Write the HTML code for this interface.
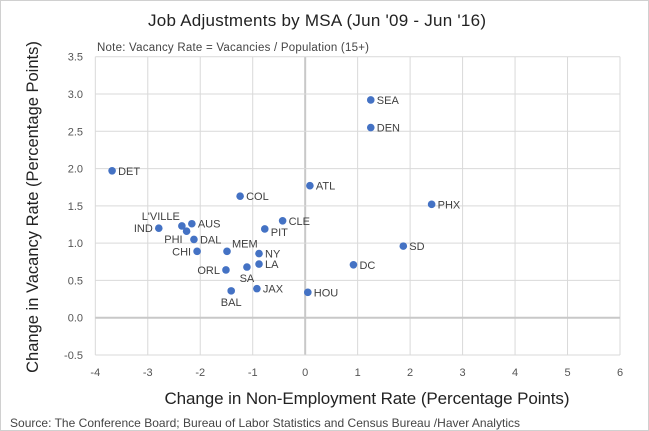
<!DOCTYPE html>
<html><head><meta charset="utf-8"><style>
body{margin:0;background:#fff}
svg{display:block;font-family:"Liberation Sans",sans-serif}
</style></head><body>
<svg id="c" width="649" height="431" viewBox="0 0 649 431">
<rect x="0.5" y="0.5" width="648" height="430" fill="#fff" stroke="#d0d0d0"/>
<text x="317" y="26" font-size="17" text-anchor="middle" fill="#222" textLength="338">Job Adjustments by MSA (Jun '09 - Jun '16)</text>
<text x="97" y="51" font-size="11.5" fill="#444" textLength="272">Note:  Vacancy Rate = Vacancies / Population (15+)</text>
<g id="grid"></g><g id="pts"></g>
<text x="367" y="404" font-size="17" text-anchor="middle" fill="#222" textLength="405">Change in Non-Employment Rate (Percentage Points)</text>
<text transform="translate(38,207) rotate(-90)" font-size="16.5" text-anchor="middle" fill="#222">Change in Vacancy Rate (Percentage Points)</text>
<text x="10" y="427" font-size="12" fill="#444" textLength="510">Source: The Conference Board; Bureau of Labor Statistics and Census Bureau /Haver Analytics</text>
</svg>
<script>
const labels=["DET","IND","L'VILLE","AUS","PHI","DAL","CHI","MEM","ORL","SA","NY","LA","BAL","JAX","COL","PIT","CLE","ATL","HOU","DC","SD","PHX","SEA","DEN"];
const xVals=[-3.68,-2.79,-2.35,-2.16,-2.26,-2.12,-2.06,-1.49,-1.51,-1.11,-0.88,-0.88,-1.41,-0.92,-1.24,-0.77,-0.43,0.09,0.05,0.92,1.87,2.41,1.25,1.25];
const yVals=[1.97,1.20,1.23,1.26,1.16,1.05,0.89,0.89,0.64,0.68,0.86,0.72,0.36,0.39,1.63,1.19,1.30,1.77,0.34,0.71,0.96,1.52,2.92,2.55];
const labelPos=["r","l","tl","r","bl","r","l","tr","l","b","r","r","b","r","r","br","r","r","r","r","r","r","r","r"];
const xTicks=[-4,-3,-2,-1,0,1,2,3,4,5,6];
const yTicks=[-0.5,0,0.5,1,1.5,2,2.5,3,3.5];
const X0=95.3,X1=620,Y0=355,Y1=56.7;
const xs=v=>X0+(v+4)/10*(X1-X0);
const ys=v=>Y0-(v+0.5)/4*(Y0-Y1);
const NS="http://www.w3.org/2000/svg";
const g=document.getElementById('grid'),p=document.getElementById('pts');
function mk(t,a,parent){const e=document.createElementNS(NS,t);for(const k in a)e.setAttribute(k,a[k]);parent.appendChild(e);return e;}
xTicks.forEach(t=>{
 const l=mk('line',{x1:xs(t),x2:xs(t),y1:Y1,y2:Y0,stroke:t===0?'#c8c8c8':'#d9d9d9','stroke-width':t===0?2:1},g);
 
 
 const tx=mk('text',{x:xs(t),y:Y0+21,'font-size':11,'text-anchor':'middle',fill:'#555'},g);tx.textContent=t;
 
 
});
yTicks.forEach(t=>{
 const l=mk('line',{x1:X0,x2:X1,y1:ys(t),y2:ys(t),stroke:t===0?'#c8c8c8':'#d9d9d9','stroke-width':t===0?2:1},g);
 
 
 const tx=mk('text',{x:83,y:ys(t)+4,'font-size':11,'text-anchor':'end',fill:'#555'},g);tx.textContent=t.toFixed(1);
 
 
});
labels.forEach((n,i)=>{
 const cx=xs(xVals[i]),cy=ys(yVals[i]);
 const c=mk('circle',{cx:cx,cy:cy,r:3.8,fill:'#4472c4'},p);
 
 
 const pos=labelPos[i];let tx=cx+6,ty=cy+4,an='start';
 if(pos==='l'){tx=cx-6;an='end';}
 if(pos==='tl'){tx=cx-2;ty=cy-6;an='end';}
 if(pos==='bl'){tx=cx-4;ty=cy+12;an='end';}
 if(pos==='tr'){tx=cx+5;ty=cy-4;}
 if(pos==='br'){tx=cx+6;ty=cy+7;}
 if(pos==='b'){tx=cx;ty=cy+15;an='middle';}
 const t=mk('text',{x:tx,y:ty,'font-size':11,'text-anchor':an,fill:'#404040'},p);t.textContent=n;
 
 
});
</script>
</body></html>
